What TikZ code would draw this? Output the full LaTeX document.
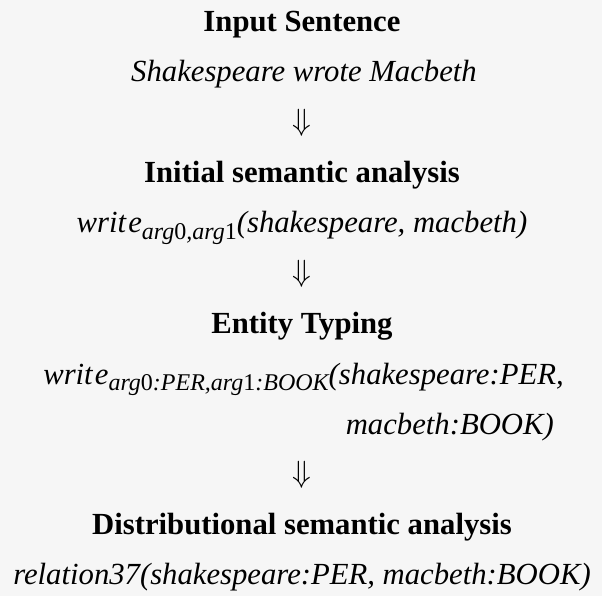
\RequirePackage{fix-cm}
\documentclass[tikz,border=0pt]{standalone}
\usepackage{fontspec}
\setmainfont{Liberation Serif}

% predicate name set like math italic, with a slight "t e" gap
\newcommand\predwrite{\textit{writ}\kern0.07em\textit{e}}
% lowered, smaller subscript
\newcommand\argsub[1]{\raisebox{-0.22em}{\fontsize{24}{24}\selectfont\itshape #1}}
\newcommand\dg[1]{{\upshape #1}}

\tikzset{
  line/.style={anchor=base, inner sep=0pt, font=\fontsize{30.7}{36}\selectfont\itshape},
  head/.style={anchor=base, inner sep=0pt, font=\fontsize{30.7}{36}\selectfont\bfseries},
  step arrow/.style={anchor=base, inner sep=0pt, font=\fontsize{30.7}{36}\selectfont},
}

\begin{document}
\begin{tikzpicture}[x=1pt, y=-1pt]
  \fill[white!96.5!black] (0,0) rectangle (602,596);
  \useasboundingbox (0,0) rectangle (602,596);

  \node[head] (h1) at (302,32) {Input Sentence};
  \node[line] (s1) at (304,82) {Shakespeare wrote Macbeth};
  \node[step arrow] (a1) at (302,131) {$\Downarrow$};

  \node[head] (h2) at (302,183) {Initial semantic analysis};
  \node[line] (s2) at (302,233)
    {\predwrite\argsub{arg\dg{0},arg\dg{1}}(shakespeare, macbeth)};
  \node[step arrow] (a2) at (302,281) {$\Downarrow$};

  \node[head] (h3) at (302,333) {Entity Typing};
  \node[line] (s3) at (303.5,384)
    {\predwrite\argsub{arg\dg{0}:PER,arg\dg{1}:BOOK}(shakespeare:PER,};
  \node[line, anchor=base east] (s3b) at (554,434) {macbeth:BOOK)};
  \node[step arrow] (a3) at (302,482) {$\Downarrow$};

  \node[head] (h4) at (302,534) {Distributional semantic analysis};
  \node[line] (s4) at (302,584) {relation37(shakespeare:PER, macbeth:BOOK)};
\end{tikzpicture}
\end{document}
